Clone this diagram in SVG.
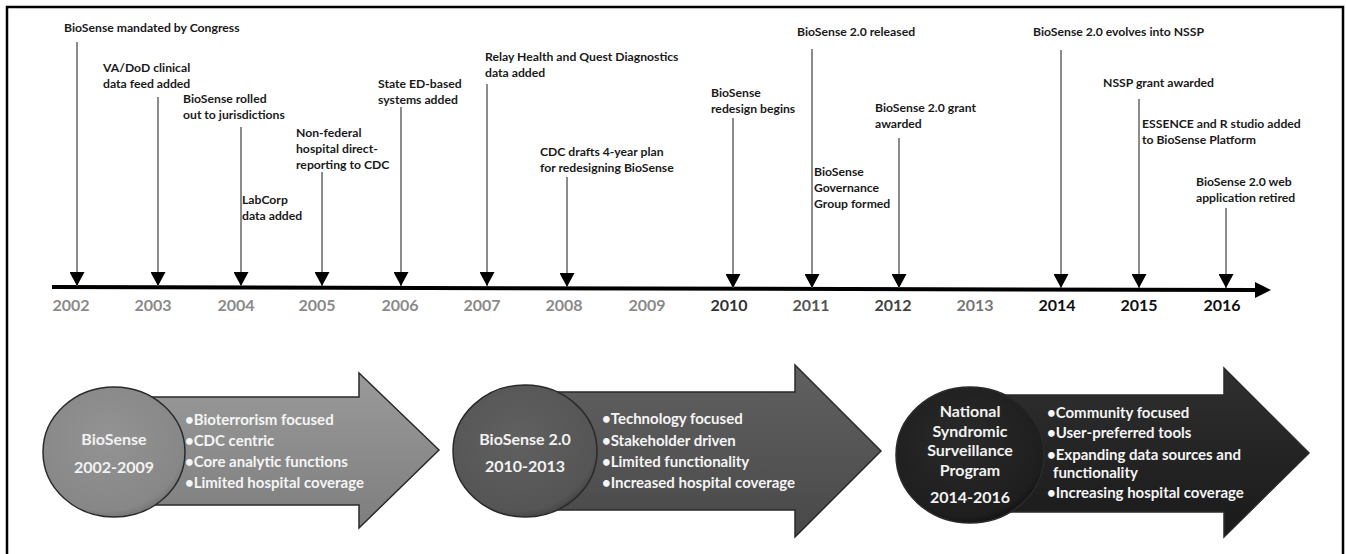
<svg xmlns="http://www.w3.org/2000/svg" width="1346" height="554" viewBox="0 0 1346 554">
<defs>
<style>
.lbl{font-family:Lato,"Liberation Sans",sans-serif;font-weight:bold;font-size:12.2px;fill:#1a1a1a}
.yr{font-family:Lato,"Liberation Sans",sans-serif;font-weight:bold;font-size:16px;text-anchor:middle}
.g{fill:#8a8a8a}.d{fill:#111}
.conn{stroke:#666;stroke-width:1.5;fill:none}
.ctext{font-family:Lato,"Liberation Sans",sans-serif;font-weight:bold;font-size:16px;text-anchor:middle;fill:#f2f2f2}
.btext{font-family:Lato,"Liberation Sans",sans-serif;font-weight:bold;font-size:15px;fill:#f5f5f5}
.arr{stroke:#2a2a2a;stroke-width:1.5}
</style>
<marker id="tri" viewBox="0 0 14 15" refX="14" refY="7.5" markerWidth="14" markerHeight="15" markerUnits="userSpaceOnUse" orient="auto">
<path d="M0,0 L14,7.5 L0,15 z" fill="#000"/>
</marker>
<linearGradient id="ga1" x1="0" y1="0" x2="0" y2="1">
<stop offset="0" stop-color="#9a9a9a"/><stop offset="0.5" stop-color="#8c8c8c"/><stop offset="1" stop-color="#7e7e7e"/>
</linearGradient>
<linearGradient id="ga2" x1="0" y1="0" x2="0" y2="1">
<stop offset="0" stop-color="#606060"/><stop offset="0.5" stop-color="#555"/><stop offset="1" stop-color="#484848"/>
</linearGradient>
<linearGradient id="ga3" x1="0" y1="0" x2="0" y2="1">
<stop offset="0" stop-color="#303030"/><stop offset="0.5" stop-color="#242424"/><stop offset="1" stop-color="#1a1a1a"/>
</linearGradient>
<radialGradient id="gc1" cx="0.45" cy="0.4" r="0.65">
<stop offset="0" stop-color="#939393"/><stop offset="0.85" stop-color="#878787"/><stop offset="1" stop-color="#6a6a6a"/>
</radialGradient>
<radialGradient id="gc2" cx="0.45" cy="0.4" r="0.65">
<stop offset="0" stop-color="#606060"/><stop offset="0.85" stop-color="#555"/><stop offset="1" stop-color="#3c3c3c"/>
</radialGradient>
<radialGradient id="gc3" cx="0.45" cy="0.4" r="0.65">
<stop offset="0" stop-color="#2a2a2a"/><stop offset="0.85" stop-color="#1e1e1e"/><stop offset="1" stop-color="#0c0c0c"/>
</radialGradient>
</defs>
<rect x="0" y="0" width="1346" height="554" fill="#fff"/>
<rect x="7" y="7" width="1336" height="560" fill="none" stroke="#000" stroke-width="2.5"/>

<g id="axis">
<line x1="52" y1="287" x2="1258" y2="290" stroke="#000" stroke-width="4"/>
<polygon points="1255,282 1271,290 1255,298" fill="#000"/>
<text class="yr g" x="71" y="311">2002</text>
<text class="yr g" x="153" y="311">2003</text>
<text class="yr g" x="236" y="311">2004</text>
<text class="yr g" x="317" y="311">2005</text>
<text class="yr g" x="400" y="311">2006</text>
<text class="yr g" x="482" y="311">2007</text>
<text class="yr g" x="564" y="311">2008</text>
<text class="yr g" x="647" y="311">2009</text>
<text class="yr" x="729" y="311" fill="#333">2010</text>
<text class="yr" x="811" y="311" fill="#555">2011</text>
<text class="yr" x="893" y="311" fill="#444">2012</text>
<text class="yr" x="975" y="311" fill="#777">2013</text>
<text class="yr d" x="1057" y="311">2014</text>
<text class="yr d" x="1139" y="311">2015</text>
<text class="yr d" x="1222" y="311">2016</text>
</g>

<g id="connectors">
<line class="conn" x1="77" y1="42" x2="77" y2="286" marker-end="url(#tri)"/>
<line class="conn" x1="158" y1="97" x2="158" y2="286" marker-end="url(#tri)"/>
<line class="conn" x1="241" y1="127" x2="241" y2="286" marker-end="url(#tri)"/>
<line class="conn" x1="322" y1="172" x2="322" y2="286" marker-end="url(#tri)"/>
<line class="conn" x1="401" y1="107" x2="401" y2="286" marker-end="url(#tri)"/>
<line class="conn" x1="487" y1="84" x2="487" y2="286" marker-end="url(#tri)"/>
<line class="conn" x1="567" y1="177" x2="567" y2="287" marker-end="url(#tri)"/>
<line class="conn" x1="733" y1="118" x2="733" y2="288" marker-end="url(#tri)"/>
<line class="conn" x1="812" y1="49" x2="812" y2="288" marker-end="url(#tri)"/>
<line class="conn" x1="899" y1="138" x2="899" y2="288" marker-end="url(#tri)"/>
<line class="conn" x1="1061" y1="50" x2="1061" y2="288" marker-end="url(#tri)"/>
<line class="conn" x1="1139" y1="99" x2="1139" y2="288" marker-end="url(#tri)"/>
<line class="conn" x1="1226" y1="208" x2="1226" y2="288" marker-end="url(#tri)"/>
</g>

<g id="e2002"><text class="lbl" x="64" y="32">BioSense mandated by Congress</text></g>
<g id="e2003"><text class="lbl" x="103" y="72">VA/DoD clinical</text><text class="lbl" x="103" y="88">data feed added</text></g>
<g id="e2004a"><text class="lbl" x="183" y="103">BioSense rolled</text><text class="lbl" x="183" y="119">out to jurisdictions</text></g>
<g id="e2004b"><text class="lbl" x="242" y="204">LabCorp</text><text class="lbl" x="242" y="220">data added</text></g>
<g id="e2005"><text class="lbl" x="296" y="137">Non-federal</text><text class="lbl" x="296" y="153">hospital direct-</text><text class="lbl" x="296" y="169">reporting to CDC</text></g>
<g id="e2006"><text class="lbl" x="378" y="88">State ED-based</text><text class="lbl" x="378" y="104">systems added</text></g>
<g id="e2007"><text class="lbl" x="485" y="61">Relay Health and Quest Diagnostics</text><text class="lbl" x="485" y="77">data added</text></g>
<g id="e2008"><text class="lbl" x="540" y="156">CDC drafts 4-year plan</text><text class="lbl" x="540" y="172">for redesigning BioSense</text></g>
<g id="e2010"><text class="lbl" x="711" y="97">BioSense</text><text class="lbl" x="711" y="113">redesign begins</text></g>
<g id="e2011a"><text class="lbl" x="797" y="36">BioSense 2.0 released</text></g>
<g id="e2011b"><text class="lbl" x="814" y="176">BioSense</text><text class="lbl" x="814" y="192">Governance</text><text class="lbl" x="814" y="208">Group formed</text></g>
<g id="e2012"><text class="lbl" x="875" y="112">BioSense 2.0 grant</text><text class="lbl" x="875" y="128">awarded</text></g>
<g id="e2014"><text class="lbl" x="1033" y="36">BioSense 2.0 evolves into NSSP</text></g>
<g id="e2015a"><text class="lbl" x="1103" y="87">NSSP grant awarded</text></g>
<g id="e2015b"><text class="lbl" x="1142" y="128">ESSENCE and R studio added</text><text class="lbl" x="1142" y="144">to BioSense Platform</text></g>
<g id="e2016"><text class="lbl" x="1196" y="186">BioSense 2.0 web</text><text class="lbl" x="1196" y="202">application retired</text></g>

<g id="phase1">
<polygon class="arr" points="114,397 359,397 359,373 439,450 359,528 359,505 114,505" fill="url(#ga1)"/>
<ellipse class="arr" cx="114" cy="452" rx="71" ry="65" fill="url(#gc1)"/>
<text class="ctext" x="114" y="445">BioSense</text>
<text class="ctext" x="114" y="473">2002-2009</text>
<text class="btext" x="185" y="425">•Bioterrorism focused</text>
<text class="btext" x="185" y="446">•CDC centric</text>
<text class="btext" x="185" y="467">•Core analytic functions</text>
<text class="btext" x="185" y="488">•Limited hospital coverage</text>
</g>

<g id="phase2">
<polygon class="arr" points="525,392 795,392 795,365 881,451 795,537 795,510 525,510" fill="url(#ga2)"/>
<ellipse class="arr" cx="525" cy="451" rx="72" ry="66" fill="url(#gc2)"/>
<text class="ctext" x="525" y="445">BioSense 2.0</text>
<text class="ctext" x="525" y="472">2010-2013</text>
<text class="btext" x="602" y="424">•Technology focused</text>
<text class="btext" x="602" y="446">•Stakeholder driven</text>
<text class="btext" x="602" y="467">•Limited functionality</text>
<text class="btext" x="602" y="488">•Increased hospital coverage</text>
</g>

<g id="phase3">
<polygon class="arr" points="970,395 1224,395 1224,368 1309,453 1224,537 1224,512 970,512" fill="url(#ga3)" stroke="#111"/>
<ellipse class="arr" cx="970" cy="455" rx="74" ry="68" fill="url(#gc3)" stroke="#000"/>
<text class="ctext" x="970" y="417">National</text>
<text class="ctext" x="970" y="437">Syndromic</text>
<text class="ctext" x="970" y="456">Surveillance</text>
<text class="ctext" x="970" y="476">Program</text>
<text class="ctext" x="970" y="503">2014-2016</text>
<text class="btext" x="1047" y="418">•Community focused</text>
<text class="btext" x="1047" y="438">•User-preferred tools</text>
<text class="btext" x="1047" y="460">•Expanding data sources and</text>
<text class="btext" x="1053" y="478">functionality</text>
<text class="btext" x="1047" y="498">•Increasing hospital coverage</text>
</g>
</svg>
